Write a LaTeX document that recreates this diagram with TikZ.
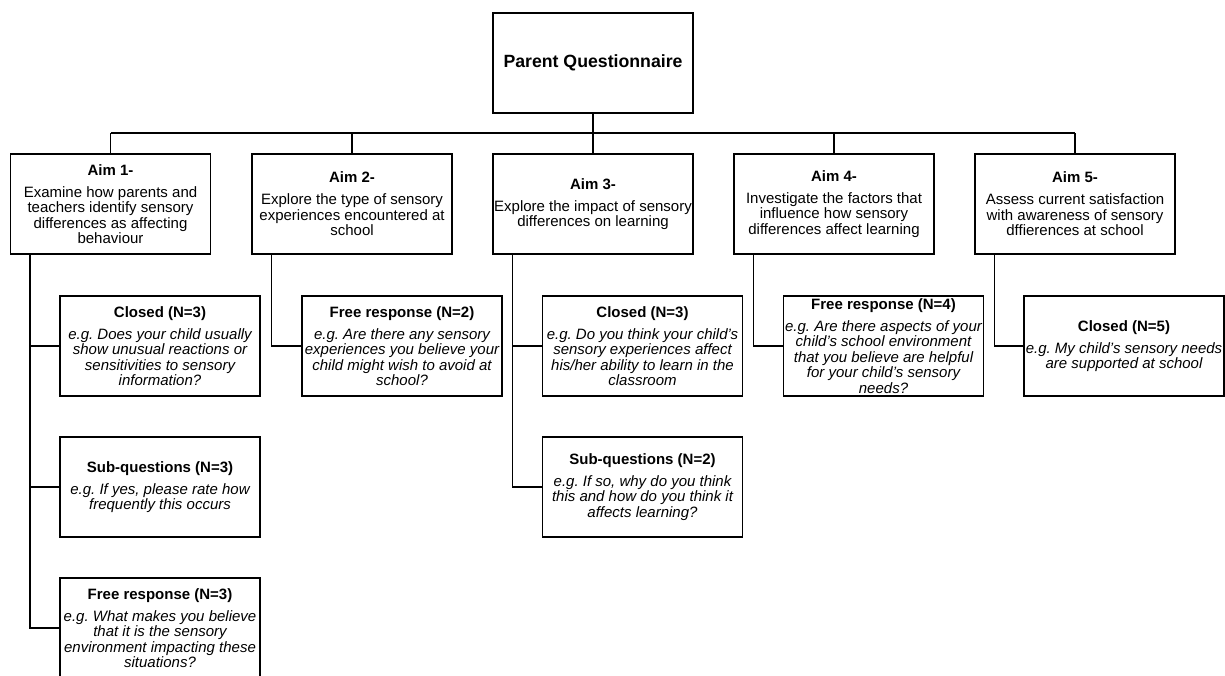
\documentclass[tikz,border=0pt]{standalone}
\usepackage{fontspec}
\setmainfont{Liberation Sans}
\usepackage{tikz}
\usetikzlibrary{calc}
\frenchspacing
\tikzstyle{node_box} = [rectangle, draw, line width=1.1pt, minimum width=200pt, minimum height=100pt, inner xsep=1pt, inner ysep=0pt, align=center, font=\fontsize{15}{15.5}\selectfont]
\tikzstyle{node_root} = [node_box, font=\fontsize{17.7}{20}\selectfont\bfseries]
\tikzstyle{edge_tree} = [line width=1.1pt]
\tikzstyle{edge_stem} = [line width=1.7pt]
\newcommand{\boxhead}[1]{{\bfseries #1}\\[6.5pt]}

\begin{document}
\begin{tikzpicture}[x=1pt, y=-1pt]
\useasboundingbox (0,0) rectangle (1225,675);

\node (root) at (593,63) [node_root] {Parent Questionnaire};

\node (a1) at (110.5,204) [node_box] {\boxhead{Aim 1-}Examine how parents and\\teachers identify sensory\\differences as affecting\\behaviour};
\node (a2) at (352,204) [node_box] {\boxhead{Aim 2-}Explore the type of sensory\\experiences encountered at\\school};
\node (a3) at (593,204) [node_box] {\boxhead{Aim 3-}Explore the impact of sensory\\differences on learning};
\node (a4) at (834,204) [node_box] {\boxhead{Aim 4-}Investigate the factors that\\influence how sensory\\differences affect learning};
\node (a5) at (1075,204) [node_box] {\boxhead{Aim 5-}Assess current satisfaction\\with awareness of sensory\\dffierences at school};

\node (c1a) at (160,346) [node_box] {\boxhead{Closed (N=3)}\itshape e.g. Does your child usually\\\itshape show unusual reactions or\\\itshape sensitivities to sensory\\\itshape information?};
\node (c1b) at (160,487) [node_box] {\boxhead{Sub-questions (N=3)}\itshape e.g. If yes, please rate how\\\itshape frequently this occurs};
\node (c1c) at (160,628) [node_box] {\boxhead{Free response (N=3)}\itshape e.g. What makes you believe\\\itshape that it is the sensory\\\itshape environment impacting these\\\itshape situations?};
\node (c2) at (402,346) [node_box] {\boxhead{Free response (N=2)}\itshape e.g. Are there any sensory\\\itshape experiences you believe your\\\itshape child might wish to avoid at\\\itshape school?};
\node (c3a) at (642.5,346) [node_box] {\boxhead{Closed (N=3)}\itshape e.g. Do you think your child’s\\\itshape sensory experiences affect\\\itshape his/her ability to learn in the\\\itshape classroom};
\node (c3b) at (642.5,487) [node_box] {\boxhead{Sub-questions (N=2)}\itshape e.g. If so, why do you think\\\itshape this and how do you think it\\\itshape affects learning?};
\node (c4) at (883.5,346) [node_box] {\boxhead{Free response (N=4)}\itshape e.g. Are there aspects of your\\\itshape child’s school environment\\\itshape that you believe are helpful\\\itshape for your child’s sensory\\\itshape needs?};
\node (c5) at (1124,346) [node_box] {\boxhead{Closed (N=5)}\itshape e.g. My child’s sensory needs\\\itshape are supported at school};

% root to aims
\coordinate (bus) at (593,133);
\draw[edge_stem] (root.south) -- (bus);
\draw[edge_tree] (bus -| a1.north) -- (bus -| a5.north);
\foreach \i in {1,...,5}
  \draw[edge_tree] (bus -| a\i.north) -- (a\i.north);

% aims to questions
\foreach \i in {1,...,5}
  \coordinate (s\i) at ($(a\i.south west)+(20,0)$);
\draw[edge_tree] (s1) |- (c1a.west) (s1) |- (c1b.west) (s1) |- (c1c.west);
\draw[edge_tree] (s2) |- (c2.west);
\draw[edge_tree] (s3) |- (c3a.west) (s3) |- (c3b.west);
\draw[edge_tree] (s4) |- (c4.west);
\draw[edge_tree] (s5) |- (c5.west);
\end{tikzpicture}
\end{document}
